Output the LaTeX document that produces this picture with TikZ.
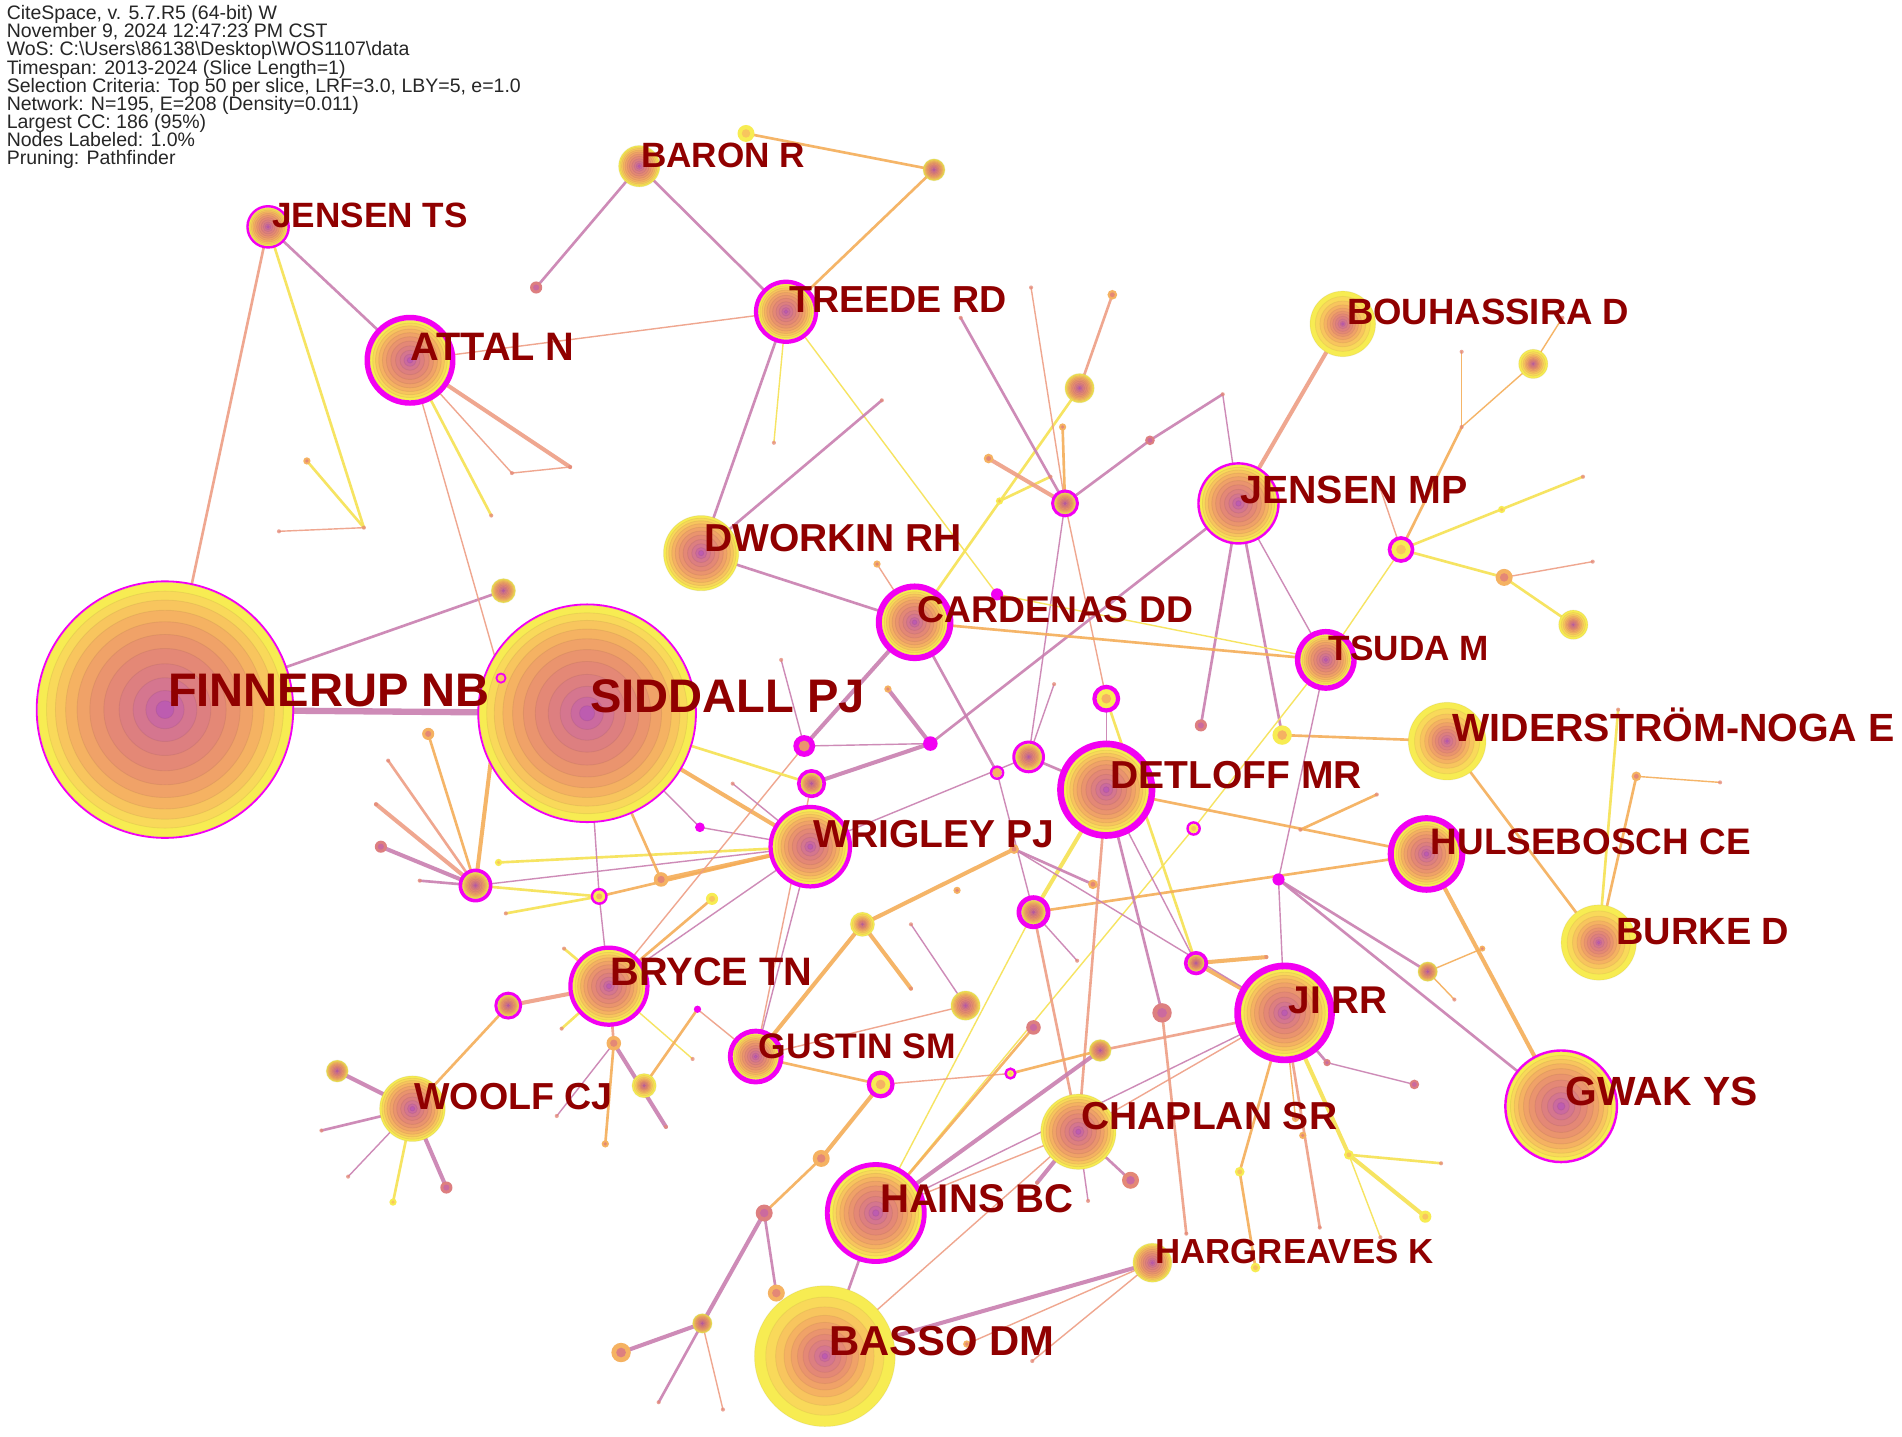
\documentclass[tikz,border=0pt]{standalone}
\usepackage{fontspec}
\setmainfont{Liberation Sans}
\definecolor{k1}{HTML}{F7EC52}
\definecolor{k2}{HTML}{F9D95A}
\definecolor{k3}{HTML}{F8C55E}
\definecolor{k4}{HTML}{F5B262}
\definecolor{k5}{HTML}{F0A268}
\definecolor{k6}{HTML}{EA946E}
\definecolor{k7}{HTML}{E48876}
\definecolor{k8}{HTML}{DD7F80}
\definecolor{k9}{HTML}{D5768F}
\definecolor{k10}{HTML}{CB6A9F}
\definecolor{k11}{HTML}{BD5CB0}
\definecolor{cM}{HTML}{C97FB0}
\definecolor{cS}{HTML}{EE9E84}
\definecolor{cO}{HTML}{F5AD58}
\definecolor{cY}{HTML}{F6E35A}
\definecolor{lblc}{HTML}{900000}
\definecolor{mag}{HTML}{F200F2}
\newcommand{\bandsStd}[2]{\foreach \f/\c in {1/k1,.93/k2,.86/k3,.78/k4,.69/k5,.59/k6,.48/k7,.36/k8,.25/k9,.15/k10,.07/k11}{\filldraw[fill=\c,draw=\c!70!black,draw opacity=.18,line width=.25pt] (#1) circle[radius={#2*\f}];}}
\newcommand{\bandsYel}[2]{\foreach \f/\c in {1/k1,.84/k2,.70/k3,.58/k4,.48/k5,.39/k6,.31/k7,.23/k8,.15/k9,.08/k10,.04/k11}{\filldraw[fill=\c,draw=\c!70!black,draw opacity=.15,line width=.25pt] (#1) circle[radius={#2*\f}];}}
\newcommand{\magring}[3]{\ifdim #3pt>0pt \draw[mag,line width={#3*0.3438pt}] (#1) circle[radius={#2+#3/2}];\fi}
\newcommand{\bigS}[3]{\bandsStd{#1}{#2}\magring{#1}{#2}{#3}}
\newcommand{\bigY}[3]{\bandsYel{#1}{#2}\magring{#1}{#2}{#3}}
\newcommand{\sn}[5]{\fill[#3] (#1) circle[radius=#2];\fill[#4] (#1) circle[radius={#2*0.5}];\magring{#1}{#2}{#5}}
\newcommand{\E}[3]{\draw[#1] (#2) -- (#3);}
\newcommand{\lf}[1]{\fontsize{#1}{#1}\selectfont\bfseries}
\begin{document}
\begin{tikzpicture}[x=0.01213cm,y=-0.01213cm,
  eM/.style={draw=cM,draw opacity=.9,line cap=round},
  eS/.style={draw=cS,draw opacity=.9,line cap=round},
  eO/.style={draw=cO,draw opacity=.9,line cap=round},
  eY/.style={draw=cY,draw opacity=.95,line cap=round},
  wa/.style={line width=0.4pt},
  wb/.style={line width=0.75pt},
  wc/.style={line width=1.15pt},
  wd/.style={line width=1.8pt},
  lab/.style={anchor=west,inner sep=0pt,text=lblc,text height=0.72em,text depth=0pt}]
\useasboundingbox (0,0) rectangle (1568,1184);
\fill[white] (0,0) rectangle (1568,1184);
% ---------- labelled nodes ----------
\coordinate (FIN) at (136,585);  \coordinate (SID) at (484,588);
\coordinate (ATT) at (338,297);  \coordinate (JTS) at (221,187);
\coordinate (BAR) at (527,137);  \coordinate (TRE) at (648,257);
\coordinate (BOU) at (1107,267); \coordinate (JMP) at (1021,415);
\coordinate (DWO) at (578,456);  \coordinate (CAR) at (754,513);
\coordinate (TSU) at (1093,544); \coordinate (WID) at (1193,611);
\coordinate (DET) at (912,651);  \coordinate (WRI) at (668,698);
\coordinate (HUL) at (1176,704); \coordinate (BUR) at (1318,777);
\coordinate (BRY) at (502,813);  \coordinate (JIR) at (1059,835);
\coordinate (GUS) at (623,871);  \coordinate (WOO) at (340,914);
\coordinate (GWA) at (1287,912); \coordinate (CHA) at (889,933);
\coordinate (HAI) at (722,1000); \coordinate (HAR) at (950,1041);
\coordinate (BAS) at (680,1118);
% ---------- small nodes ----------
\coordinate (s1) at (300,435); \coordinate (s2) at (230,438); \coordinate (s3) at (253,380);
\coordinate (s4) at (470,385); \coordinate (s5) at (422,390); \coordinate (s6) at (405,425);
\coordinate (s7) at (413,559); \coordinate (s8) at (415,487); \coordinate (s9) at (442,237);
\coordinate (s10) at (615,110); \coordinate (s11) at (770,140); \coordinate (s12) at (638,365);
\coordinate (s13) at (727,330); \coordinate (s14) at (723,465); \coordinate (s15) at (822,490);
\coordinate (s16) at (890,320); \coordinate (s17) at (917,243); \coordinate (s18) at (878,415);
\coordinate (s19) at (792,262); \coordinate (s20) at (850,237); \coordinate (s21) at (815,378);
\coordinate (s22) at (876,352); \coordinate (s23) at (948,363); \coordinate (s24) at (1008,325);
\coordinate (s25) at (824,413); \coordinate (s26) at (866,393); \coordinate (s27) at (1264,300);
\coordinate (s28) at (1205,352); \coordinate (s29) at (1205,290); \coordinate (s30) at (1288,262);
\coordinate (s31) at (1155,453); \coordinate (s32) at (1138,403); \coordinate (s33) at (1305,393);
\coordinate (s34) at (1238,420); \coordinate (s35) at (1240,476); \coordinate (s36) at (1313,463);
\coordinate (s37) at (1297,515); \coordinate (s38) at (990,598); \coordinate (s39) at (1057,606);
\coordinate (s40) at (767,613); \coordinate (s41) at (663,615); \coordinate (s42) at (669,646);
\coordinate (s43) at (732,568); \coordinate (s44) at (644,544); \coordinate (s45) at (604,646);
\coordinate (s46) at (822,637); \coordinate (s47) at (848,624); \coordinate (s48) at (869,564);
\coordinate (s49) at (912,576); \coordinate (s50) at (984,683); \coordinate (s51) at (1054,725);
\coordinate (s52) at (1072,684); \coordinate (s53) at (1135,655); \coordinate (s54) at (1177,801);
\coordinate (s55) at (1222,782); \coordinate (s56) at (1199,824); \coordinate (s57) at (1166,894);
\coordinate (s58) at (1334,585); \coordinate (s59) at (1349,640); \coordinate (s60) at (1418,645);
\coordinate (s61) at (392,730); \coordinate (s62) at (353,605); \coordinate (s63) at (320,627);
\coordinate (s64) at (310,663); \coordinate (s65) at (314,698); \coordinate (s66) at (346,726);
\coordinate (s67) at (411,711); \coordinate (s68) at (417,753); \coordinate (s69) at (494,739);
\coordinate (s70) at (545,725); \coordinate (s71) at (577,682); \coordinate (s72) at (587,741);
\coordinate (s73) at (711,762); \coordinate (s74) at (789,734); \coordinate (s75) at (836,700);
\coordinate (s76) at (901,729); \coordinate (s77) at (852,752); \coordinate (s78) at (888,792);
\coordinate (s79) at (751,762); \coordinate (s80) at (796,829); \coordinate (s81) at (852,847);
\coordinate (s82) at (833,885); \coordinate (s83) at (726,894); \coordinate (s84) at (907,866);
\coordinate (s85) at (751,815); \coordinate (s86) at (575,832); \coordinate (s87) at (531,895);
\coordinate (s88) at (506,860); \coordinate (s89) at (571,873); \coordinate (s90) at (465,782);
\coordinate (s91) at (463,848); \coordinate (s92) at (419,829); \coordinate (s93) at (278,883);
\coordinate (s94) at (265,932); \coordinate (s95) at (287,970); \coordinate (s96) at (324,991);
\coordinate (s97) at (368,979); \coordinate (s98) at (459,920); \coordinate (s99) at (499,943);
\coordinate (s100) at (549,929); \coordinate (s101) at (677,955); \coordinate (s102) at (630,1000);
\coordinate (s103) at (640,1066); \coordinate (s104) at (579,1091); \coordinate (s105) at (512,1115);
\coordinate (s106) at (543,1156); \coordinate (s107) at (596,1162); \coordinate (s108) at (986,794);
\coordinate (s109) at (958,835); \coordinate (s110) at (1044,789); \coordinate (s111) at (932,973);
\coordinate (s112) at (897,990); \coordinate (s113) at (1022,966); \coordinate (s114) at (1035,1045);
\coordinate (s115) at (1074,936); \coordinate (s116) at (1088,1012); \coordinate (s117) at (1112,952);
\coordinate (s118) at (1188,959); \coordinate (s119) at (1175,1003); \coordinate (s120) at (1138,1020);
\coordinate (s121) at (1094,876); \coordinate (s122) at (978,1017); \coordinate (s123) at (851,1122);
\coordinate (s124) at (797,1108); \coordinate (s125) at (855,975); \coordinate (s126) at (1068,922);
% ---------- edges ----------
\E{eM,wd}{FIN}{SID}
\E{eM,wb}{FIN}{s8}
\E{eS,wb}{FIN}{JTS}
\E{eM,wb}{JTS}{ATT}
\E{eY,wb}{JTS}{s1}
\E{eS,wa}{s1}{s2}
\E{eY,wb}{s1}{s3}
\E{eS,wa}{ATT}{TRE}
\E{eS,wc}{ATT}{s4}
\E{eS,wa}{ATT}{s5}
\E{eS,wa}{s5}{s4}
\E{eY,wb}{ATT}{s6}
\E{eS,wa}{ATT}{s7}
\E{eM,wb}{BAR}{s9}
\E{eM,wb}{BAR}{TRE}
\E{eO,wb}{s10}{s11}
\E{eO,wb}{s11}{TRE}
\E{eM,wb}{TRE}{DWO}
\E{eY,wa}{TRE}{s12}
\E{eY,wa}{TRE}{s15}
\E{eM,wb}{DWO}{s13}
\E{eM,wb}{DWO}{CAR}
\E{eS,wa}{CAR}{s14}
\E{eS,wb}{s16}{s17}
\E{eY,wb}{s16}{CAR}
\E{eY,wb}{s25}{s26}
\E{eM,wb}{s18}{s19}
\E{eS,wa}{s18}{s20}
\E{eS,wc}{s18}{s21}
\E{eO,wb}{s18}{s22}
\E{eM,wb}{s18}{s23}
\E{eM,wb}{s23}{s24}
\E{eM,wa}{s24}{JMP}
\E{eS,wa}{s18}{s49}
\E{eM,wa}{s18}{s47}
\E{eS,wc}{BOU}{JMP}
\E{eO,wa}{s27}{s28}
\E{eO,wa}{s27}{s30}
\E{eO,wa}{s28}{s29}
\E{eO,wb}{s28}{s31}
\E{eS,wa}{s31}{s32}
\E{eY,wb}{s31}{s33}
\E{eY,wb}{s31}{s35}
\E{eS,wa}{s35}{s36}
\E{eY,wb}{s35}{s37}
\E{eY,wa}{s31}{TSU}
\E{eM,wb}{JMP}{s38}
\E{eM,wb}{JMP}{s39}
\E{eM,wa}{JMP}{TSU}
\E{eM,wb}{JMP}{s40}
\E{eO,wb}{s39}{WID}
\E{eM,wa}{s40}{s41}
\E{eM,wc}{s40}{s42}
\E{eM,wc}{s40}{s43}
\E{eM,wc}{s41}{CAR}
\E{eM,wa}{s41}{s44}
\E{eO,wb}{CAR}{TSU}
\E{eY,wa}{s15}{TSU}
\E{eM,wa}{TSU}{s51}
\E{eY,wa}{TSU}{s50}
\E{eY,wa}{s50}{HAI}
\E{eY,wb}{s49}{s108}
\E{eM,wa}{s49}{DET}
\E{eM,wb}{CAR}{s46}
\E{eM,wa}{s46}{s77}
\E{eM,wb}{s47}{DET}
\E{eM,wa}{s47}{s48}
\E{eM,wa}{WRI}{s47}
\E{eO,wb}{DET}{HUL}
\E{eO,wb}{s52}{s53}
\E{eO,wb}{s77}{HUL}
\E{eY,wc}{s77}{DET}
\E{eS,wb}{s77}{CHA}
\E{eY,wa}{s77}{HAI}
\E{eM,wa}{s77}{s78}
\E{eS,wb}{DET}{CHA}
\E{eM,wb}{DET}{s109}
\E{eM,wa}{s108}{DET}
\E{eO,wc}{s108}{s110}
\E{eO,wc}{s108}{JIR}
\E{eM,wa}{s51}{JIR}
\E{eM,wb}{s51}{s54}
\E{eM,wb}{s51}{GWA}
\E{eO,wa}{s54}{s55}
\E{eO,wa}{s54}{s56}
\E{eO,wb}{WID}{BUR}
\E{eY,wb}{BUR}{s58}
\E{eO,wb}{BUR}{s59}
\E{eO,wa}{s59}{s60}
\E{eO,wc}{HUL}{GWA}
\E{eO,wb}{s61}{s62}
\E{eS,wb}{s61}{s63}
\E{eS,wc}{s61}{s64}
\E{eM,wc}{s61}{s65}
\E{eM,wb}{s61}{s66}
\E{eO,wc}{s61}{s7}
\E{eM,wa}{s61}{WRI}
\E{eY,wb}{s61}{s69}
\E{eY,wb}{s67}{WRI}
\E{eY,wb}{s68}{s69}
\E{eO,wb}{s69}{WRI}
\E{eM,wa}{s69}{SID}
\E{eM,wa}{s69}{BRY}
\E{eO,wc}{SID}{WRI}
\E{eM,wa}{SID}{s71}
\E{eM,wa}{s71}{WRI}
\E{eO,wb}{SID}{s70}
\E{eO,wc}{s70}{WRI}
\E{eO,wb}{s72}{BRY}
\E{eM,wa}{BRY}{WRI}
\E{eS,wa}{BRY}{s41}
\E{eY,wb}{SID}{s42}
\E{eM,wa}{WRI}{s45}
\E{eM,wa}{GUS}{WRI}
\E{eS,wa}{GUS}{s42}
\E{eO,wc}{GUS}{s73}
\E{eO,wc}{s73}{s75}
\E{eO,wc}{s73}{s85}
\E{eM,wb}{s75}{s76}
\E{eM,wa}{s75}{JIR}
\E{eM,wa}{s79}{s80}
\E{eS,wa}{s80}{GUS}
\E{eO,wb}{GUS}{s83}
\E{eS,wa}{s83}{s82}
\E{eO,wb}{s82}{s84}
\E{eS,wb}{s84}{JIR}
\E{eM,wc}{s84}{HAI}
\E{eO,wb}{s81}{HAI}
\E{eO,wc}{s83}{s101}
\E{eO,wb}{s101}{s102}
\E{eM,wc}{s102}{s104}
\E{eM,wb}{s102}{s103}
\E{eM,wc}{s104}{s105}
\E{eM,wb}{s104}{s106}
\E{eS,wa}{s104}{s107}
\E{eS,wc}{BRY}{s92}
\E{eO,wb}{s92}{WOO}
\E{eM,wc}{WOO}{s93}
\E{eM,wb}{WOO}{s94}
\E{eM,wa}{WOO}{s95}
\E{eY,wb}{WOO}{s96}
\E{eM,wc}{WOO}{s97}
\E{eS,wb}{BRY}{s88}
\E{eM,wa}{s88}{s98}
\E{eO,wb}{s88}{s99}
\E{eM,wc}{s88}{s100}
\E{eY,wb}{BRY}{s91}
\E{eY,wb}{BRY}{s90}
\E{eY,wa}{BRY}{s89}
\E{eO,wb}{s87}{s86}
\E{eS,wa}{s86}{GUS}
\E{eS,wa}{JIR}{CHA}
\E{eM,wa}{JIR}{HAI}
\E{eO,wb}{JIR}{s113}
\E{eO,wb}{s113}{s114}
\E{eS,wb}{JIR}{s116}
\E{eY,wc}{JIR}{s117}
\E{eY,wb}{s117}{s118}
\E{eY,wc}{s117}{s119}
\E{eY,wa}{s117}{s120}
\E{eM,wb}{JIR}{s121}
\E{eM,wa}{s121}{s57}
\E{eM,wb}{CHA}{s111}
\E{eM,wa}{CHA}{s112}
\E{eM,wc}{CHA}{s125}
\E{eS,wa}{CHA}{HAI}
\E{eS,wb}{s109}{s122}
\E{eM,wc}{HAR}{BAS}
\E{eS,wa}{HAR}{s123}
\E{eS,wa}{HAR}{s124}
\E{eM,wb}{HAI}{BAS}
\E{eS,wa}{BAS}{CHA}
\E{eO,wa}{JIR}{s126}
% ---------- big nodes ----------
\bigS{FIN}{105}{1.5}
\bigS{SID}{89}{1.5}
\bigS{ATT}{33}{4.5}
\bigS{JTS}{16}{2}
\bigS{BAR}{17}{0}
\bigS{TRE}{23}{3.5}
\bigY{BOU}{27}{0}
\bigS{JMP}{32}{2}
\bigS{DWO}{31}{0}
\bigS{CAR}{27}{5}
\bigS{TSU}{21}{4.5}
\bigY{WID}{32}{0}
\bigS{DET}{35}{5.5}
\bigS{WRI}{31}{3.5}
\bigS{HUL}{27}{5}
\bigY{BUR}{31}{0}
\bigS{BRY}{30}{3.5}
\bigS{JIR}{36}{5.5}
\bigS{GUS}{19}{4}
\bigS{WOO}{27}{0}
\bigS{GWA}{45}{2}
\bigS{CHA}{31}{0}
\bigS{HAI}{38}{4}
\bigS{HAR}{16}{0}
\bigY{BAS}{58}{0}
% ---------- small nodes ----------
\foreach \n in {s1,s2,s4,s5,s6,s12,s13,s19,s20,s24,s26,s28,s29,s30,s32,s33,s36,s44,s45,s48,s52,s53,s56,s58,s60,s63,s64,s66,s68,s78,s79,s85,s89,s90,s91,s94,s95,s98,s100,s106,s107,s110,s112,s116,s118,s120,s122,s123,s125}
  {\fill[k7,opacity=.75] (\n) circle[radius=1.7];}
\sn{s3}{3}{k4}{k7}{0}
\sn{s7}{3}{k3}{k3}{1.5}
\bigS{s8}{10}{0}
\sn{s9}{5}{k8}{k10}{0}
\sn{s10}{7}{k1}{k3}{0}
\bigS{s11}{9}{0}
\sn{s14}{3}{k4}{k7}{0}
\sn{s15}{5}{mag}{mag}{0}
\bigS{s16}{12}{0}
\sn{s17}{4}{k4}{k7}{0}
\bigS{s18}{9}{2.5}
\sn{s21}{4}{k4}{k7}{0}
\sn{s22}{3}{k4}{k7}{0}
\sn{s23}{4}{k8}{k10}{0}
\sn{s25}{3}{k1}{k3}{0}
\bigY{s27}{12}{0}
\sn{s31}{8}{k1}{k3}{3}
\sn{s34}{3}{k1}{k3}{0}
\sn{s35}{7}{k4}{k7}{0}
\bigY{s37}{12}{0}
\sn{s38}{5}{k8}{k10}{0}
\sn{s39}{8}{k1}{k4}{0}
\sn{s40}{6}{mag}{mag}{0}
\sn{s41}{9}{mag}{k6}{0}
\bigS{s42}{9}{3}
\sn{s43}{3}{k4}{k7}{0}
\sn{s46}{4}{k4}{k4}{2}
\bigS{s47}{11}{2.5}
\sn{s49}{8}{k1}{k4}{3.5}
\sn{s50}{4}{k1}{k3}{2}
\sn{s51}{5}{mag}{mag}{0}
\bigS{s54}{8}{0}
\sn{s55}{2.5}{k4}{k7}{0}
\sn{s57}{4}{k8}{k10}{0}
\sn{s59}{4}{k4}{k7}{0}
\bigS{s61}{11}{3}
\sn{s62}{5}{k4}{k7}{0}
\sn{s65}{5}{k8}{k10}{0}
\sn{s67}{3}{k1}{k3}{0}
\sn{s69}{5}{k1}{k4}{2}
\sn{s70}{6}{k4}{k7}{0}
\sn{s71}{4}{mag}{mag}{0}
\sn{s72}{5}{k1}{k3}{0}
\bigY{s73}{10}{0}
\sn{s74}{3}{k4}{k7}{0}
\sn{s75}{4}{k4}{k7}{0}
\sn{s76}{4}{k4}{k7}{0}
\bigS{s77}{10}{4}
\bigS{s80}{12}{0}
\sn{s81}{6}{k8}{k10}{0}
\sn{s82}{3}{k1}{k3}{2}
\sn{s83}{8}{k1}{k4}{3.5}
\bigS{s84}{9}{0}
\sn{s86}{3}{mag}{mag}{0}
\bigY{s87}{10}{0}
\sn{s88}{6}{k4}{k7}{0}
\bigS{s92}{9}{2.5}
\bigS{s93}{9}{0}
\sn{s96}{3}{k1}{k3}{0}
\sn{s97}{5}{k8}{k10}{0}
\sn{s99}{3}{k4}{k7}{0}
\sn{s101}{7}{k4}{k7}{0}
\sn{s102}{7}{k8}{k10}{0}
\sn{s103}{7}{k4}{k7}{0}
\bigS{s104}{8}{0}
\sn{s105}{8}{k4}{k8}{0}
\bigS{s108}{7}{3}
\sn{s109}{8}{k8}{k10}{0}
\sn{s111}{7}{k7}{k10}{0}
\sn{s113}{4}{k1}{k3}{0}
\sn{s114}{4}{k1}{k3}{0}
\sn{s115}{3}{k4}{k7}{0}
\sn{s117}{4}{k1}{k3}{0}
\sn{s119}{5}{k1}{k3}{0}
\sn{s121}{3}{k8}{k10}{0}
\sn{s124}{3}{k4}{k7}{0}
\sn{s126}{3}{k4}{k7}{0}
% ---------- labels ----------
\node[lab,font=\lf{13.4}] (lFIN) at (138,572) {FINNERUP NB};
\node[lab,font=\lf{13.4}] (lSID) at (486,577) {SIDDALL PJ};
\node[lab,font=\lf{11.3}] (lATT) at (338,287) {ATTAL N};
\node[lab,font=\lf{10}] (lJTS) at (224,177) {JENSEN TS};
\node[lab,font=\lf{10}] (lBAR) at (528,128) {BARON R};
\node[lab,font=\lf{10.7}] (lTRE) at (650,247) {TREEDE RD};
\node[lab,font=\lf{10.4}] (lBOU) at (1110,257) {BOUHASSIRA D};
\node[lab,font=\lf{11.2}] (lJMP) at (1022,405) {JENSEN MP};
\node[lab,font=\lf{11.1}] (lDWO) at (580,444) {DWORKIN RH};
\node[lab,font=\lf{10.6}] (lCAR) at (756,503) {CARDENAS DD};
\node[lab,font=\lf{10}] (lTSU) at (1095,534) {TSUDA M};
\node[lab,font=\lf{11.2}] (lWID) at (1197,601) {WIDERSTRÖM-NOGA E};
\node[lab,font=\lf{11.1}] (lDET) at (915,640) {DETLOFF MR};
\node[lab,font=\lf{11.1}] (lWRI) at (670,688) {WRIGLEY PJ};
\node[lab,font=\lf{10.5}] (lHUL) at (1179,694) {HULSEBOSCH CE};
\node[lab,font=\lf{10.8}] (lBUR) at (1332,768) {BURKE D};
\node[lab,font=\lf{11.3}] (lBRY) at (503,802) {BRYCE TN};
\node[lab,font=\lf{11}] (lJIR) at (1062,825) {JI RR};
\node[lab,font=\lf{10.1}] (lGUS) at (625,862) {GUSTIN SM};
\node[lab,font=\lf{10.7}] (lWOO) at (341,904) {WOOLF CJ};
\node[lab,font=\lf{11.6}] (lGWA) at (1290,901) {GWAK YS};
\node[lab,font=\lf{11.1}] (lCHA) at (891,921) {CHAPLAN SR};
\node[lab,font=\lf{11.4}] (lHAI) at (725,989) {HAINS BC};
\node[lab,font=\lf{9.9}] (lHAR) at (952,1031) {HARGREAVES K};
\node[lab,font=\lf{11.9}] (lBAS) at (683,1107) {BASSO DM};
% ---------- header ----------
\node[anchor=north west,inner sep=0pt,align=left,text=black!85,font={\fontsize{5.55}{5.16}\selectfont\lineskiplimit=-10pt\lineskip=0pt}] (hdr) at (5,4)
{CiteSpace, v. 5.7.R5 (64-bit) W\\
November 9, 2024 12:47:23 PM CST\\
WoS: C:\textbackslash Users\textbackslash 86138\textbackslash Desktop\textbackslash WOS1107\textbackslash data\\
Timespan: 2013-2024 (Slice Length=1)\\
Selection Criteria: Top 50 per slice, LRF=3.0, LBY=5, e=1.0\\
Network: N=195, E=208 (Density=0.011)\\
Largest CC: 186 (95\%)\\
Nodes Labeled: 1.0\%\\
Pruning: Pathfinder};
\end{tikzpicture}
\end{document}
